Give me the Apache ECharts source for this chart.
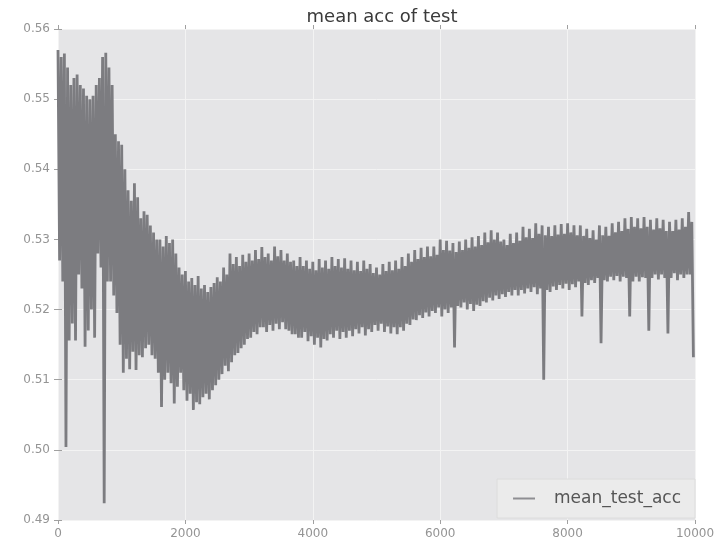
<!DOCTYPE html>
<html lang="en">
<head>
    <meta charset="UTF-8">
    <title>mean acc of test</title>
    <style>
        html, body { margin: 0; padding: 0; background: #ffffff; }
        #main { width: 719px; height: 549px; }
    </style>
</head>
<body>
<div id="main"></div>
<script src="https://cdn.jsdelivr.net/npm/echarts@6/dist/echarts.min.js"></script>
<script>
    // x ticks / y ticks
    var xTicks = [0, 2000, 4000, 6000, 8000, 10000];
    var yTicks = [0.49, 0.50, 0.51, 0.52, 0.53, 0.54, 0.55, 0.56];

    // one high and one low reading per bin of 50 iterations (x = 0, 50, ... 9950)
    var binStep = 50;
    // upper edge of the noisy band
    var accHigh = [
        0.5570, 0.5560, 0.5565, 0.5545, 0.5520, 0.5530, 0.5535, 0.5520, 0.5515, 0.5505,
        0.5500, 0.5505, 0.5520, 0.5530, 0.5560, 0.5566, 0.5545, 0.5520, 0.5450, 0.5440,
        0.5435, 0.5400, 0.5370, 0.5355, 0.5380, 0.5360, 0.5330, 0.5340, 0.5335, 0.5320,
        0.5310, 0.5300, 0.5300, 0.5290, 0.5305, 0.5295, 0.5300, 0.5280, 0.5260, 0.5250,
        0.5255, 0.5240, 0.5245, 0.5235, 0.5248, 0.5230, 0.5235, 0.5225, 0.5232, 0.5238,
        0.5246, 0.5240, 0.5260, 0.5250, 0.5280, 0.5265, 0.5275, 0.5262, 0.5278, 0.5268,
        0.5280, 0.5270, 0.5285, 0.5272, 0.5289, 0.5275, 0.5280, 0.5270, 0.5290, 0.5276,
        0.5285, 0.5270, 0.5280, 0.5268, 0.5270, 0.5262, 0.5275, 0.5262, 0.5270, 0.5258,
        0.5268, 0.5256, 0.5272, 0.5260, 0.5270, 0.5258, 0.5275, 0.5262, 0.5272, 0.5260,
        0.5273, 0.5258, 0.5270, 0.5256, 0.5268, 0.5255, 0.5270, 0.5258, 0.5265, 0.5252,
        0.5260, 0.5250, 0.5265, 0.5255, 0.5268, 0.5256, 0.5270, 0.5258, 0.5275, 0.5262,
        0.5280, 0.5268, 0.5285, 0.5272, 0.5288, 0.5275, 0.5290, 0.5276, 0.5290, 0.5278,
        0.5300, 0.5285, 0.5298, 0.5284, 0.5295, 0.5282, 0.5297, 0.5285, 0.5300, 0.5288,
        0.5303, 0.5290, 0.5305, 0.5292, 0.5310, 0.5296, 0.5313, 0.5300, 0.5310, 0.5297,
        0.5300, 0.5292, 0.5308, 0.5295, 0.5310, 0.5298, 0.5318, 0.5303, 0.5315, 0.5302,
        0.5323, 0.5308, 0.5320, 0.5306, 0.5318, 0.5305, 0.5320, 0.5307, 0.5322, 0.5308,
        0.5323, 0.5310, 0.5320, 0.5306, 0.5320, 0.5305, 0.5315, 0.5302, 0.5313, 0.5300,
        0.5320, 0.5306, 0.5318, 0.5305, 0.5323, 0.5310, 0.5325, 0.5312, 0.5330, 0.5315,
        0.5332, 0.5318, 0.5330, 0.5316, 0.5332, 0.5318, 0.5328, 0.5314, 0.5330, 0.5316,
        0.5328, 0.5312, 0.5325, 0.5312, 0.5328, 0.5314, 0.5330, 0.5318, 0.5339, 0.5325
    ];
    // lower edge of the band, with the single deep dips
    var accLow = [
        0.5270, 0.5240, 0.5004, 0.5156, 0.5180, 0.5156, 0.5250, 0.5230, 0.5147, 0.5170,
        0.5200, 0.5160, 0.5280, 0.5260, 0.4924, 0.5240, 0.5240, 0.5220, 0.5195, 0.5150,
        0.5110, 0.5130, 0.5115, 0.5140, 0.5114, 0.5135, 0.5132, 0.5145, 0.5150, 0.5135,
        0.5130, 0.5110, 0.5061, 0.5100, 0.5110, 0.5095, 0.5066, 0.5090, 0.5110, 0.5085,
        0.5070, 0.5080, 0.5057, 0.5068, 0.5065, 0.5075, 0.5080, 0.5072, 0.5085, 0.5092,
        0.5100, 0.5108, 0.5120, 0.5112, 0.5125, 0.5135, 0.5138, 0.5145, 0.5150, 0.5158,
        0.5160, 0.5168, 0.5165, 0.5175, 0.5175, 0.5168, 0.5178, 0.5170, 0.5180, 0.5172,
        0.5182, 0.5172, 0.5170, 0.5165, 0.5165, 0.5160, 0.5160, 0.5168, 0.5155, 0.5162,
        0.5150, 0.5160, 0.5146, 0.5158, 0.5156, 0.5165, 0.5160, 0.5170, 0.5158, 0.5168,
        0.5160, 0.5170, 0.5162, 0.5172, 0.5166, 0.5175, 0.5163, 0.5172, 0.5168, 0.5178,
        0.5170, 0.5180, 0.5168, 0.5176, 0.5166, 0.5175, 0.5165, 0.5175, 0.5170, 0.5180,
        0.5178, 0.5186, 0.5185, 0.5192, 0.5188, 0.5196, 0.5190, 0.5198, 0.5195, 0.5203,
        0.5190, 0.5200, 0.5195, 0.5203, 0.5146, 0.5205, 0.5203, 0.5210, 0.5200, 0.5208,
        0.5198, 0.5207, 0.5205, 0.5212, 0.5210, 0.5217, 0.5213, 0.5220, 0.5215, 0.5222,
        0.5218, 0.5225, 0.5220, 0.5228, 0.5220, 0.5228, 0.5223, 0.5230, 0.5225, 0.5232,
        0.5222, 0.5230, 0.5100, 0.5228, 0.5225, 0.5233, 0.5228, 0.5235, 0.5230, 0.5237,
        0.5228, 0.5236, 0.5232, 0.5240, 0.5190, 0.5238, 0.5235, 0.5242, 0.5238, 0.5245,
        0.5152, 0.5242, 0.5240, 0.5247, 0.5242, 0.5248, 0.5240, 0.5247, 0.5245, 0.5190,
        0.5240, 0.5247, 0.5240, 0.5246, 0.5245, 0.5170, 0.5245, 0.5250, 0.5243, 0.5250,
        0.5245, 0.5166, 0.5245, 0.5252, 0.5242, 0.5250, 0.5245, 0.5250, 0.5250, 0.5132
    ];

    var lineData = [];
    for (var i = 0; i < accHigh.length; i++) {
        lineData.push([i * binStep, accHigh[i]]);
        lineData.push([i * binStep + binStep / 2, accLow[i]]);
    }

    var myChart = echarts.init(document.getElementById('main'), null, {renderer: 'canvas'});
    var tickColor = '#a0a0a0';
    var labelStyle = {color: '#949494', fontSize: 12, fontFamily: 'DejaVu Sans'};

    var option = {
        animation: false,
        backgroundColor: '#ffffff',
        title: {
            text: 'mean acc of test',
            left: 377,
            top: 3,
            textAlign: 'center',
            textStyle: {color: '#3a3a3a', fontSize: 18, fontWeight: 'normal', fontFamily: 'DejaVu Sans'}
        },
        legend: {
            data: [{name: 'mean_test_acc', itemStyle: {color: '#8e8e92'}}],
            right: 24,
            bottom: 31,
            padding: [11, 14, 11, 16],
            itemWidth: 22,
            itemHeight: 2,
            icon: 'rect',
            backgroundColor: '#ebebeb',
            borderColor: '#dcdcdc',
            borderWidth: 1,
            textStyle: {color: '#555555', fontSize: 17, fontFamily: 'DejaVu Sans', padding: [0, 0, 0, 14]}
        },
        grid: {
            left: 58, right: 24, top: 29, bottom: 29,
            show: true,
            backgroundColor: '#e5e5e7',
            borderWidth: 0
        },
        xAxis: [{
            type: 'value',
            min: xTicks[0], max: xTicks[xTicks.length - 1], interval: 2000,
            axisLine: {show: false},
            axisTick: {show: true, length: 4, lineStyle: {color: tickColor}},
            axisLabel: Object.assign({
                margin: 8,
                formatter: function (v) { return String(v); }
            }, labelStyle),
            splitLine: {show: true, lineStyle: {color: '#f3f3f3', width: 1}}
        }, {
            type: 'value', position: 'top',
            min: xTicks[0], max: xTicks[xTicks.length - 1], interval: 2000,
            axisLine: {show: false},
            axisTick: {show: true, length: 4, lineStyle: {color: tickColor}},
            axisLabel: {show: false},
            splitLine: {show: false}
        }],
        yAxis: [{
            type: 'value',
            min: yTicks[0], max: yTicks[yTicks.length - 1], interval: 0.01,
            axisLine: {show: false},
            axisTick: {show: true, length: 4, lineStyle: {color: tickColor}},
            axisLabel: Object.assign({
                margin: 8,
                formatter: function (v) { return v.toFixed(2); }
            }, labelStyle),
            splitLine: {show: true, lineStyle: {color: '#f3f3f3', width: 1}}
        }, {
            type: 'value', position: 'right',
            min: yTicks[0], max: yTicks[yTicks.length - 1], interval: 0.01,
            axisLine: {show: false},
            axisTick: {show: true, length: 4, lineStyle: {color: tickColor}},
            axisLabel: {show: false},
            splitLine: {show: false}
        }],
        series: [{
            name: 'mean_test_acc',
            type: 'line',
            data: lineData,
            showSymbol: false,
            symbol: 'none',
            sampling: null,
            color: '#7c7c80',
            lineStyle: {color: '#7c7c80', width: 2.8, join: 'bevel'}
        }]
    };
    myChart.setOption(option);
</script>
</body>
</html>
